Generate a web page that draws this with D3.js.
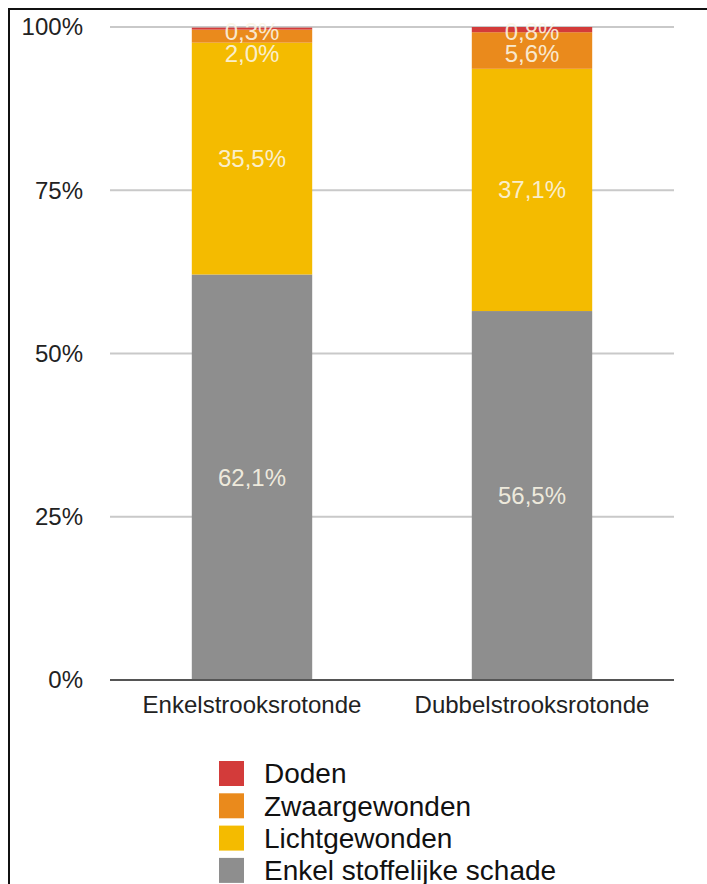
<!DOCTYPE html>
<html>
<head>
<meta charset="utf-8">
<script src="https://cdn.jsdelivr.net/npm/d3@7"></script>
<style>
  body { margin: 0; background: #fff; }
  svg { display: block; font-family: "Liberation Sans", Arial, sans-serif; }
</style>
</head>
<body>
<svg id="chart" width="707" height="884"></svg>
<script>
"use strict";

const categories = ["Enkelstrooksrotonde", "Dubbelstrooksrotonde"];
const seriesNames = ["Enkel stoffelijke schade", "Lichtgewonden", "Zwaargewonden", "Doden"];
const schade = [62.1, 56.5];
const licht = [35.5, 37.1];
const zwaar = [2.0, 5.6];
const doden = [0.3, 0.8];
const yTicks = [0, 25, 50, 75, 100];

const colors = {
  "Enkel stoffelijke schade": "#8e8e8e",
  "Lichtgewonden": "#f4bb00",
  "Zwaargewonden": "#ea8a1c",
  "Doden": "#d33b3a"
};

const seriesValues = [schade, licht, zwaar, doden];
const rows = categories.map((c, i) => {
  const r = { cat: c };
  seriesNames.forEach((s, j) => (r[s] = seriesValues[j][i]));
  return r;
});

const svg = d3.select("#chart");

// frame
svg.append("line").attr("x1", 8).attr("x2", 707).attr("y1", 9).attr("y2", 9)
  .attr("stroke", "#111").attr("stroke-width", 2);
svg.append("line").attr("x1", 9).attr("x2", 9).attr("y1", 8).attr("y2", 884)
  .attr("stroke", "#111").attr("stroke-width", 2);

const x = d3.scaleBand().domain(categories).range([112, 672]).paddingInner(0.57).paddingOuter(0.285);
const y = d3.scaleLinear().domain([0, 100]).range([680, 27]);

// grid
svg.append("g").selectAll("line")
  .data(yTicks.filter(d => d > 0))
  .join("line")
  .attr("x1", 110).attr("x2", 674)
  .attr("y1", d => y(d)).attr("y2", d => y(d))
  .attr("stroke", "#c9c9c9").attr("stroke-width", 2);

svg.append("g").selectAll("text")
  .data(yTicks)
  .join("text")
  .attr("x", 83).attr("y", d => y(d)).attr("dy", "0.35em")
  .attr("text-anchor", "end").attr("font-size", 24).attr("fill", "#222")
  .text(d => d + "%");

const stack = d3.stack().keys(seriesNames)(rows);

svg.append("g").selectAll("g")
  .data(stack)
  .join("g")
  .attr("fill", d => colors[d.key])
  .selectAll("rect")
  .data(d => d)
  .join("rect")
  .attr("x", d => x(d.data.cat))
  .attr("width", x.bandwidth())
  .attr("y", d => y(d[1]))
  .attr("height", d => y(d[0]) - y(d[1]));

// baseline
svg.append("line").attr("x1", 110).attr("x2", 674).attr("y1", y(0)).attr("y2", y(0))
  .attr("stroke", "#555").attr("stroke-width", 2);

// value labels, resolved top-down so small slices don't collide
const fmt = v => v.toFixed(1).replace(".", ",") + "%";
const labels = [];
categories.forEach((c, i) => {
  let prev = null;
  for (let k = stack.length - 1; k >= 0; k--) {
    const seg = stack[k][i];
    let cy = (y(seg[0]) + y(seg[1])) / 2;
    if (prev === null) cy = Math.max(cy, y(100) + 5);
    else cy = Math.max(cy, prev + 22);
    prev = cy;
    labels.push({ cat: c, y: cy, text: fmt(seg[1] - seg[0]) });
  }
});

svg.append("g").selectAll("text")
  .data(labels)
  .join("text")
  .attr("x", d => x(d.cat) + x.bandwidth() / 2)
  .attr("y", d => d.y).attr("dy", "0.35em")
  .attr("text-anchor", "middle").attr("font-size", 24)
  .attr("fill", "#fbf6e6").attr("fill-opacity", 0.9)
  .text(d => d.text);

// category axis labels
svg.append("g").selectAll("text")
  .data(categories)
  .join("text")
  .attr("x", d => x(d) + x.bandwidth() / 2).attr("y", 705).attr("dy", "0.35em")
  .attr("text-anchor", "middle").attr("font-size", 24).attr("fill", "#222")
  .text(d => d);

// legend
const legendOrder = seriesNames.slice().reverse();
const legend = svg.append("g").selectAll("g")
  .data(legendOrder)
  .join("g")
  .attr("transform", (d, i) => `translate(219,${761 + i * 32.3})`);
legend.append("rect").attr("width", 25).attr("height", 25).attr("fill", d => colors[d]);
legend.append("text").attr("x", 45).attr("y", 12.5).attr("dy", "0.35em")
  .attr("font-size", 28).attr("fill", "#111").text(d => d);
</script>
</body>
</html>
